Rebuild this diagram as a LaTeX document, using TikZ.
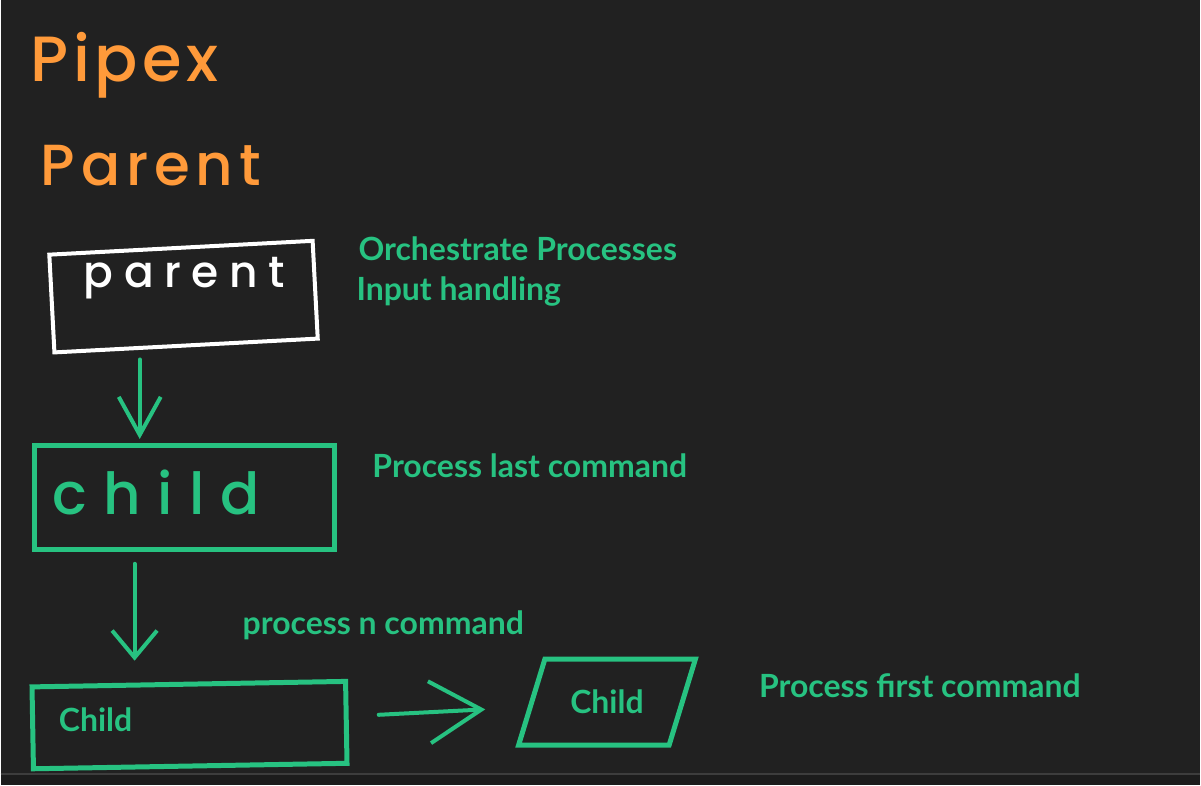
\documentclass[tikz,border=0pt]{standalone}
\usepackage{fontspec}
\setmainfont{Lato}[UprightFont={* Semibold}, BoldFont={* Bold}]
\newfontfamily\handfont{Poppins}[UprightFont={* Medium}]
\usetikzlibrary{arrows.meta,calc,positioning,shapes.geometric}
\definecolor{board}{HTML}{212121}
\definecolor{mint}{HTML}{27C281}
\definecolor{marker}{HTML}{FF9A3A}
\tikzset{
  note/.style={text=mint, font=\bfseries\fontsize{32}{38}\selectfont, anchor=base west, inner sep=0pt},
  scrawl/.style={anchor=base west, inner sep=0pt},
  box/.style={draw=mint, line width=5pt, inner sep=0pt},
  flow/.style={draw=mint, line width=4pt, line cap=round, line join=round},
}

\begin{document}
\begin{tikzpicture}[x=1pt, y=-1pt]
    % board
    \fill[board] (0,0) rectangle (1201,786);
    \fill[board!85!black] (0,776) rectangle (1201,786);
    \draw[line width=1.5pt, gray!30!board] (0,775) -- (1201,775);

    % titles
    \node (title) [scrawl, text=marker, font=\handfont\addfontfeature{LetterSpace=7}\fontsize{64}{70}\selectfont] at (30,82) {Pipex};
    \node (sub) [scrawl, text=marker, font=\handfont\addfontfeature{LetterSpace=10}\fontsize{58}{64}\selectfont] at (40,186) {Parent};

    % boxes
    \node (parent) [box, draw=white, line width=4pt, minimum width=264pt, minimum height=98pt, rotate=3] at (183,297) {};
    \node (parentlbl) [scrawl, text=white, font=\handfont\addfontfeature{LetterSpace=24}\fontsize{44}{50}\selectfont] at (83,288) {parent};
    \node (child) [box, minimum width=300pt, minimum height=104pt] at (184,498) {};
    \node (childlbl) [scrawl, text=mint, font=\handfont\addfontfeature{LetterSpace=28}\fontsize{58}{64}\selectfont] at (52,515) {child};
    \node (cmdn) [box, minimum width=314pt, minimum height=82pt, rotate=1] at (189,726) {};
    \node (cmdnlbl) [note] at (58,732) {Child};
    \node (first) [box, trapezium, trapezium left angle=73, trapezium right angle=107,
        trapezium stretches body, inner ysep=31pt, minimum width=177pt, text=mint,
        font=\bfseries\fontsize{32}{38}\selectfont] at (607,703) {Child};

    % notes
    \node (n1) [note] at (358,261) {Orchestrate Processes};
    \node (n2) [note] at (356,301) {Input handling};
    \node (n3) [note] at (372,478) {Process last command};
    \node (n4) [note] at (242,635) {process n command};
    \node (n5) [note] at (759,698) {Process first command};

    % arrows
    \coordinate (in1) at ($(child.north west)!0.353!(child.north east)$);
    \coordinate (in2) at ($(cmdn.north west)!0.33!(cmdn.north east)$);
    \draw[flow, -{Straight Barb[length=38pt, width=42pt, line width=4pt]}, shorten <=12pt, shorten >=4pt]
        (in1 |- parent.south) -- (in1);
    \draw[flow, -{Straight Barb[length=27pt, width=45pt, line width=4pt]}, shorten <=12pt, shorten >=22pt]
        (in2 |- child.south) -- (in2);
    \draw[flow, -{Straight Barb[length=52pt, width=62pt, line width=4pt]}, shorten <=30pt, shorten >=44pt]
        ($(cmdn.east)+(0,-6)$) -- ($(first.west)+(0,5)$);
\end{tikzpicture}
\end{document}
